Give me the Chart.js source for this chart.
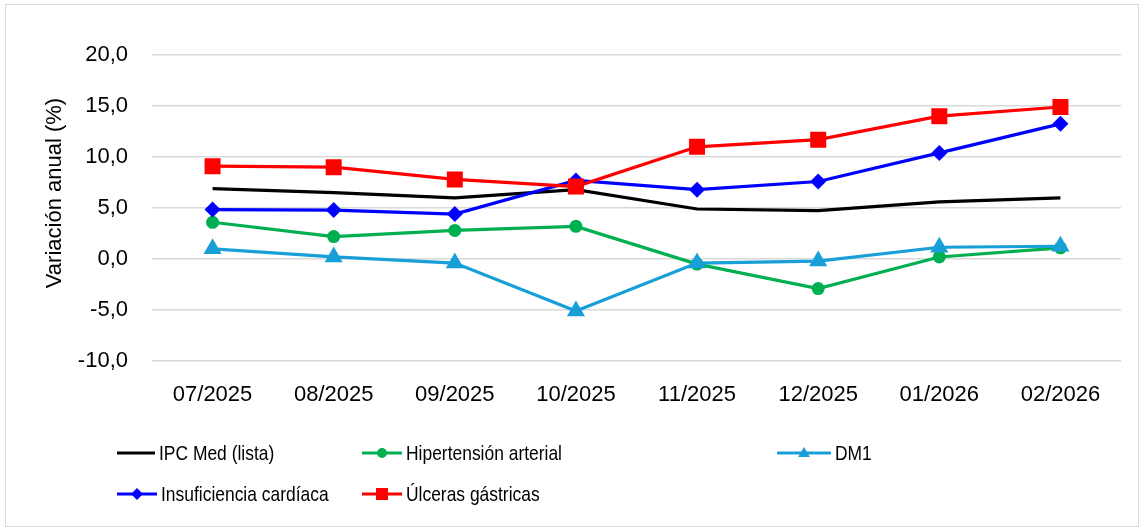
<!DOCTYPE html>
<html>
<head>
<meta charset="utf-8">
<script src="https://cdn.jsdelivr.net/npm/chart.js@4.4.1/dist/chart.umd.min.js"></script>
<style>
  html, body { margin: 0; padding: 0; background: #fff; }
  #wrap { position: relative; width: 1144px; height: 531px; overflow: hidden; }
  #frame { position: absolute; left: 5px; top: 4px; width: 1134px; height: 523px; border: 1px solid #d9d9d9; box-sizing: border-box; pointer-events: none; }
  #chart { position: absolute; left: 0; top: 0; }
  .leg { position: absolute; display: flex; align-items: center; height: 30px; font-family: "Liberation Sans", Arial, sans-serif; font-size: 21px; color: #000; white-space: nowrap; }
  .leg svg { display: block; margin-right: 4px; }
  .leg span { display: inline-block; transform: scaleX(0.83); transform-origin: left center; }
</style>
</head>
<body>
<div id="wrap">
  <canvas id="chart" width="1144" height="531"></canvas>
  <div id="frame"></div>
</div>
<script>
// months on the x axis
const months = ['07/2025', '08/2025', '09/2025', '10/2025', '11/2025', '12/2025', '01/2026', '02/2026'];

// annual variation (%) per series
const ipcMed = [6.9, 6.5, 6.0, 6.8, 4.9, 4.75, 5.6, 6.0];
const hipertension = [3.6, 2.2, 2.8, 3.2, -0.5, -2.9, 0.2, 1.1];
const dm1 = [1.0, 0.2, -0.4, -5.1, -0.4, -0.2, 1.15, 1.25];
const insuficiencia = [4.85, 4.8, 4.4, 7.7, 6.8, 7.6, 10.4, 13.25];
const ulceras = [9.1, 9.0, 7.8, 7.1, 11.0, 11.7, 14.0, 14.9];

const seriesNames = ['IPC Med (lista)', 'Hipertensión arterial', 'DM1', 'Insuficiencia cardíaca', 'Úlceras gástricas'];
const yTicks = [-10, -5, 0, 5, 10, 15, 20];
const yTitle = 'Variación anual (%)';

const colors = ['#000000', '#00b050', '#189fd8', '#0000ff', '#ff0000'];
const markers = [false, 'circle', 'triangle', 'rectRot', 'rect'];
const markerSize = [0, 6.5, 10.5, 8, 11.3];
const allData = [ipcMed, hipertension, dm1, insuficiencia, ulceras];

const fmt = v => v.toFixed(1).replace('.', ',');
const axisFont = { family: 'Liberation Sans', size: 22 };

const datasets = allData.map((d, i) => ({
  label: seriesNames[i],
  data: d,
  borderColor: colors[i],
  backgroundColor: colors[i],
  borderWidth: 3.2,
  pointStyle: markers[i],
  pointRadius: markerSize[i],
  pointBorderWidth: 0,
  pointHoverRadius: markerSize[i],
  tension: 0,
  fill: false,
  order: allData.length - 1 - i
}));

// y title drawn by hand so it sits where Excel put it
const yTitlePlugin = {
  id: 'yTitle',
  afterDraw(chart) {
    const ctx = chart.ctx;
    ctx.save();
    ctx.translate(55, 193);
    ctx.rotate(-Math.PI / 2);
    ctx.font = '22px "Liberation Sans"';
    ctx.fillStyle = '#000';
    ctx.textAlign = 'center';
    ctx.textBaseline = 'middle';
    ctx.fillText(yTitle, 0, 0);
    ctx.restore();
  }
};

new Chart(document.getElementById('chart').getContext('2d'), {
  type: 'line',
  data: { labels: months, datasets },
  plugins: [yTitlePlugin],
  options: {
    responsive: false,
    animation: false,
    layout: { padding: { top: 55, right: 23, bottom: 110, left: 0 } },
    scales: {
      x: {
        offset: true,
        grid: { display: false },
        border: { display: false },
        ticks: { color: '#000', font: axisFont, padding: 13, maxRotation: 0 },
        afterFit: s => { s.height = 60; }
      },
      y: {
        min: -10, max: 20,
        afterBuildTicks: s => { s.ticks = yTicks.map(v => ({ value: v })); },
        grid: { color: '#d9d9d9', lineWidth: 1.5, drawTicks: false },
        border: { display: false },
        ticks: { color: '#000', font: axisFont, padding: 24, callback: v => fmt(v) },
        afterFit: s => { s.width = 152; }
      }
    },
    plugins: {
      legend: { display: false },
      tooltip: { enabled: false }
    }
  }
});

// ---- legend laid out in columns like the original ----
const legendPos = [
  { x: 117, y: 453, w: 38 },
  { x: 362, y: 453, w: 40 },
  { x: 777, y: 453, w: 54 },
  { x: 117, y: 494, w: 40 },
  { x: 362, y: 494, w: 40 }
];

function sampleSvg(i, w) {
  const c = colors[i], m = markers[i], cx = w / 2, cy = 15;
  let mark = '';
  if (m === 'circle') mark = `<circle cx="${cx}" cy="${cy}" r="5" fill="${c}"/>`;
  if (m === 'triangle') mark = `<polygon points="${cx},${cy - 6} ${cx + 6},${cy + 4} ${cx - 6},${cy + 4}" fill="${c}"/>`;
  if (m === 'rectRot') mark = `<polygon points="${cx},${cy - 6} ${cx + 6},${cy} ${cx},${cy + 6} ${cx - 6},${cy}" fill="${c}"/>`;
  if (m === 'rect') mark = `<rect x="${cx - 6}" y="${cy - 6}" width="12" height="12" fill="${c}"/>`;
  return `<svg width="${w}" height="30"><line x1="0" y1="${cy}" x2="${w}" y2="${cy}" stroke="${c}" stroke-width="3.2"/>${mark}</svg>`;
}

const wrap = document.getElementById('wrap');
seriesNames.forEach((name, i) => {
  const p = legendPos[i];
  const el = document.createElement('div');
  el.className = 'leg';
  el.style.left = p.x + 'px';
  el.style.top = (p.y - 15) + 'px';
  el.innerHTML = sampleSvg(i, p.w) + `<span>${name}</span>`;
  wrap.appendChild(el);
});
</script>
</body>
</html>
